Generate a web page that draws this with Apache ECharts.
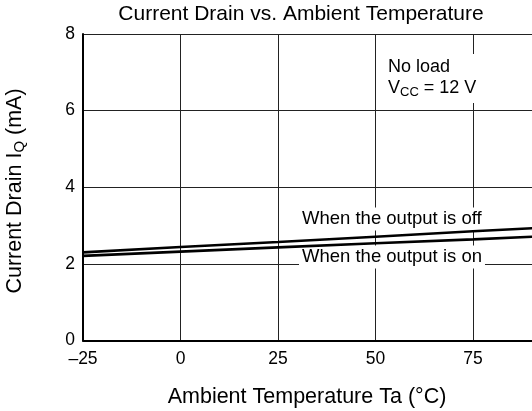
<!DOCTYPE html>
<html>
<head>
<meta charset="utf-8">
<script src="https://cdn.jsdelivr.net/npm/echarts@6/dist/echarts.min.js"></script>
<style>html,body{margin:0;padding:0;background:#fff;}#c{width:532px;height:411px;}</style>
</head>
<body>
<div id="c"></div>
<script>
var temps = [-25, 0, 25, 50, 75, 100];
var offDrain = [2.30, 2.44, 2.57, 2.71, 2.85, 2.98];
var onDrain = [2.21, 2.32, 2.43, 2.54, 2.64, 2.75];
var xTicks = [-25, 0, 25, 50, 75, 100];
var yTicks = [0, 2, 4, 6, 8];

var FONT = '"Liberation Sans", Arial, Helvetica, sans-serif';
function pairs(xs, ys){ return xs.map(function(x,i){ return [x, ys[i]]; }); }

var chart = echarts.init(document.getElementById('c'));
chart.setOption({
  animation: false,
  backgroundColor: '#fff',
  grid: { left: 83, top: 34, width: 487.5, height: 306.5, containLabel: false, outerBoundsMode: 'none' },
  xAxis: {
    type: 'value', min: xTicks[0], max: xTicks[xTicks.length-1], interval: 25,
    axisLine: { show: true, onZero: false, lineStyle: { color: '#000', width: 2 } },
    axisTick: { show: false },
    axisLabel: { color: '#000', fontSize: 17.5, fontFamily: FONT, margin: 10,
      formatter: function(v){ return String(v).replace('-', '\u2013'); } },
    splitLine: { show: true, lineStyle: { color: '#222', width: 1 } }
  },
  yAxis: {
    type: 'value', min: yTicks[0], max: yTicks[yTicks.length-1], interval: 2,
    axisLine: { show: true, onZero: false, lineStyle: { color: '#000', width: 2 } },
    axisTick: { show: false },
    axisLabel: { color: '#000', fontSize: 17.5, fontFamily: FONT, margin: 8 },
    splitLine: { show: true, lineStyle: { color: '#222', width: 1 } }
  },
  series: [
    { type: 'line', data: pairs(temps, offDrain), symbol: 'none', z: 5,
      lineStyle: { color: '#000', width: 2.6 } },
    { type: 'line', data: pairs(temps, onDrain), symbol: 'none', z: 5,
      lineStyle: { color: '#000', width: 2.6 } }
  ],
  graphic: [
    { type: 'text', x: 301, y: 14, z: 10,
      style: { text: 'Current Drain vs. Ambient Temperature', fill: '#000', font: '21px ' + FONT,
        align: 'center', verticalAlign: 'middle' } },
    { type: 'text', x: 307, y: 397, z: 10,
      style: { text: 'Ambient Temperature Ta (\u00B0C)', fill: '#000', font: '21.5px ' + FONT,
        align: 'center', verticalAlign: 'middle' } },
    { type: 'text', x: 15, y: 191, rotation: Math.PI/2, z: 10,
      style: { text: '{a|Current Drain I}{s|Q}{a| (mA)}', align: 'center', verticalAlign: 'middle',
        rich: { a: { fontSize: 21.5, fontFamily: FONT, color: '#000' },
                s: { fontSize: 15, fontFamily: FONT, color: '#000', padding: [9,0,0,0] } } } },
    { type: 'text', x: 386, y: 54, z: 3,
      style: { text: '{a|No load}\n{a|V}{s|CC}{a| = 12 V}', backgroundColor: '#fff', padding: [3,4,4,2],
        rich: { a: { fontSize: 18, fontFamily: FONT, color: '#000', lineHeight: 21 },
                s: { fontSize: 13, fontFamily: FONT, color: '#000', padding: [7,0,0,0], lineHeight: 21 } } } },
    { type: 'text', x: 299, y: 219, z: 3,
      style: { text: 'When the output is off', fill: '#000', font: '18.5px ' + FONT,
        verticalAlign: 'middle', backgroundColor: '#fff', padding: [2,3,2,3] } },
    { type: 'text', x: 299, y: 257, z: 3,
      style: { text: 'When the output is on', fill: '#000', font: '18.5px ' + FONT,
        verticalAlign: 'middle', backgroundColor: '#fff', padding: [2,3,2,3] } }
  ]
});
</script>
</body>
</html>
